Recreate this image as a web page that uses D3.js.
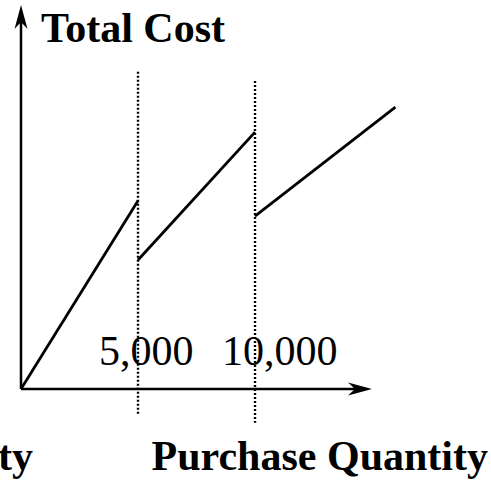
<!DOCTYPE html>
<html>
<head>
<meta charset="utf-8">
<script src="https://cdn.jsdelivr.net/npm/d3@7"></script>
<style>
  body { margin: 0; background: #fff; }
  text { font-family: "Liberation Serif", "Times New Roman", serif; fill: #000; }
</style>
</head>
<body>
<script>
// quantity break points and cost segments (cost in arbitrary units)
var breaks = [5000, 10000];
var breakLabels = ["5,000", "10,000"];
var segStartQty = [0, 5000, 10000];
var segEndQty = [5000, 10000, 16000];
var segStartCost = [0, 33.6, 45];
var segEndCost = [49, 66.9, 73.4];
var breakTop = [82.6, 80.2];
var breakBottom = [-6.5, -8.8];
var yLabel = "Total Cost";
var xLabel = "Purchase Quantity";

var width = 491, height = 480;

var svg = d3.select("body").append("svg")
  .attr("width", width)
  .attr("height", height);

// escalas
var xScale = d3.scaleLinear().domain([0, 15000]).range([21, 372]);
var yScale = d3.scaleLinear().domain([0, 100]).range([389, 5]);

// axes with arrowheads
function arrow(tx, ty, dir) {
  // dir: "up" or "right"
  var L = 24, W = 6.5, back = 17;
  var p;
  if (dir == "up") {
    p = [[tx, ty], [tx + W, ty + L], [tx, ty + back], [tx - W, ty + L]];
  } else {
    p = [[tx, ty], [tx - L, ty - W], [tx - back, ty], [tx - L, ty + W]];
  }
  svg.append("path")
    .attr("d", "M" + p.join("L") + "Z")
    .attr("fill", "#000");
}

svg.append("line")
  .attr("x1", xScale(0)).attr("y1", yScale(0))
  .attr("x2", xScale(0)).attr("y2", yScale(100) + 10)
  .attr("stroke", "#000").attr("stroke-width", 2.5);
arrow(xScale(0), yScale(100), "up");

svg.append("line")
  .attr("x1", xScale(0)).attr("y1", yScale(0))
  .attr("x2", xScale(15000) - 10).attr("y2", yScale(0))
  .attr("stroke", "#000").attr("stroke-width", 2.5);
arrow(xScale(15000), yScale(0), "right");

// cost segments
svg.selectAll(".seg")
  .data(segStartQty)
  .enter()
  .append("line")
  .attr("class", "seg")
  .attr("x1", function(d) { return xScale(d); })
  .attr("y1", function(d, i) { return yScale(segStartCost[i]); })
  .attr("x2", function(d, i) { return xScale(segEndQty[i]); })
  .attr("y2", function(d, i) { return yScale(segEndCost[i]); })
  .attr("stroke", "#000")
  .attr("stroke-width", 2.8);

// break labels
svg.selectAll(".blab")
  .data(breakLabels)
  .enter()
  .append("text")
  .attr("class", "blab")
  .attr("x", function(d, i) { return xScale(breaks[i]) - (i == 0 ? 39 : 33); })
  .attr("y", 365)
  .attr("font-size", 42)
  .text(function(d) { return d; });

// dotted break lines (on top of the labels)
svg.selectAll(".brk")
  .data(breaks)
  .enter()
  .append("line")
  .attr("class", "brk")
  .attr("x1", function(d) { return xScale(d); })
  .attr("x2", function(d) { return xScale(d); })
  .attr("y1", function(d, i) { return yScale(breakTop[i]); })
  .attr("y2", function(d, i) { return yScale(breakBottom[i]); })
  .attr("stroke", "#000")
  .attr("stroke-width", 2.4)
  .attr("stroke-dasharray", "2,2");

// titulos
svg.append("text")
  .attr("x", 41)
  .attr("y", 42)
  .attr("font-size", 42)
  .attr("font-weight", "bold")
  .text(yLabel);

svg.append("text")
  .attr("x", 488)
  .attr("y", 470)
  .attr("text-anchor", "end")
  .attr("font-size", 42)
  .attr("font-weight", "bold")
  .text(xLabel);

svg.append("text")
  .attr("x", 33)
  .attr("y", 470)
  .attr("text-anchor", "end")
  .attr("font-size", 42)
  .attr("font-weight", "bold")
  .text(xLabel);
</script>
</body>
</html>
